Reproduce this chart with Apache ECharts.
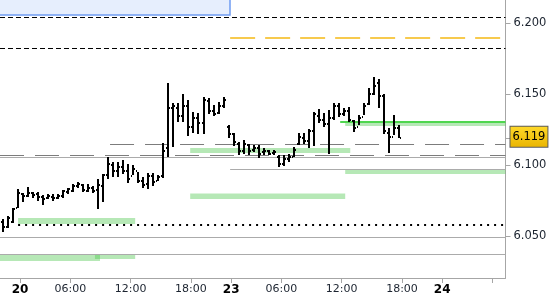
<!DOCTYPE html>
<html>
<head>
<meta charset="utf-8">
<script src="https://cdn.jsdelivr.net/npm/echarts@6/dist/echarts.min.js"></script>
<style>
html,body{margin:0;padding:0;background:#fff;}
#chart{width:550px;height:300px;}
</style>
</head>
<body>
<div id="chart"></div>
<script>
// ---- data: 30-minute OHLC bars, one per time slot (slot index = array index)
const opens  = [6.0598,6.0565,6.0600,6.0700,6.0795,6.0785,6.0800,6.0795,6.0775,6.0765,
                6.0775,6.0770,6.0780,6.0810,6.0820,6.0850,6.0860,6.0820,6.0840,6.0825,
                6.0850,6.0930,6.1000,6.0960,6.0990,6.0960,6.0920,6.0960,6.0890,6.0870,
                6.0920,6.0890,6.0920,6.1120,6.1400,6.1400,6.1350,6.1420,6.1270,6.1330,
                6.1300,6.1450,6.1380,6.1370,6.1420,6.1270,6.1220,6.1150,6.1100,6.1140,
                6.1110,6.1120,6.1090,6.1100,6.1085,6.1060,6.1010,6.1040,6.1060,6.1150,
                6.1190,6.1170,6.1240,6.1350,6.1320,6.1290,6.1330,6.1420,6.1360,6.1380,
                6.1310,6.1270,6.1340,6.1430,6.1500,6.1580,6.1490,6.1230,6.1200,6.1260];
const highs  = [6.0619,6.0641,6.0697,6.0831,6.0803,6.0845,6.0810,6.0810,6.0789,6.0796,
                6.0796,6.0796,6.0824,6.0838,6.0867,6.0881,6.0867,6.0867,6.0852,6.0902,
                6.0937,6.1057,6.1022,6.1022,6.1036,6.1008,6.1001,6.0951,6.0916,6.0944,
                6.0944,6.0930,6.1156,6.1580,6.1439,6.1439,6.1502,6.1460,6.1375,6.1368,
                6.1481,6.1474,6.1425,6.1446,6.1481,6.1283,6.1227,6.1163,6.1177,6.1149,
                6.1142,6.1142,6.1121,6.1107,6.1107,6.1071,6.1071,6.1078,6.1128,6.1227,
                6.1227,6.1255,6.1375,6.1396,6.1368,6.1389,6.1439,6.1439,6.1403,6.1410,
                6.1319,6.1354,6.1439,6.1545,6.1622,6.1608,6.1502,6.1262,6.1354,6.1283];
const lows   = [6.0528,6.0556,6.0591,6.0697,6.0739,6.0775,6.0768,6.0747,6.0718,6.0761,
                6.0747,6.0761,6.0768,6.0796,6.0810,6.0838,6.0810,6.0810,6.0803,6.0690,
                6.0739,6.0902,6.0916,6.0916,6.0937,6.0874,6.0930,6.0874,6.0838,6.0831,
                6.0852,6.0888,6.0909,6.1057,6.1128,6.1304,6.1304,6.1206,6.1227,6.1220,
                6.1220,6.1361,6.1347,6.1361,6.1403,6.1191,6.1135,6.1071,6.1078,6.1071,
                6.1093,6.1050,6.1071,6.1071,6.1071,6.0987,6.0994,6.1022,6.1057,6.1142,
                6.1149,6.1121,6.1135,6.1297,6.1269,6.1078,6.1319,6.1340,6.1347,6.1304,
                6.1234,6.1283,6.1354,6.1425,6.1495,6.1403,6.1220,6.1085,6.1213,6.1191];
const closes = [6.0560,6.0630,6.0690,6.0800,6.0780,6.0800,6.0790,6.0775,6.0760,6.0780,
                6.0770,6.0785,6.0815,6.0830,6.0850,6.0865,6.0825,6.0840,6.0820,6.0860,
                6.0930,6.1010,6.0960,6.0990,6.0960,6.0900,6.0975,6.0890,6.0860,6.0920,
                6.0880,6.0915,6.1100,6.1400,6.1420,6.1350,6.1420,6.1270,6.1330,6.1300,
                6.1460,6.1380,6.1360,6.1420,6.1460,6.1220,6.1160,6.1100,6.1150,6.1100,
                6.1120,6.1080,6.1100,6.1080,6.1095,6.1010,6.1040,6.1060,6.1110,6.1200,
                6.1170,6.1240,6.1360,6.1320,6.1290,6.1330,6.1420,6.1360,6.1380,6.1320,
                6.1260,6.1330,6.1420,6.1500,6.1560,6.1490,6.1240,6.1200,6.1260,6.1190];
const lastPrice = 6.119;

// ---- time axis (slot units) and tick labels
const slotCount = 100.6;
const tickSlots  = [4, 14, 26, 38, 46, 56, 68, 80, 88, 98];
const tickLabels = ['20', '06:00', '12:00', '18:00', '23', '06:00', '12:00', '18:00', '24', ''];
const dayLabels  = ['20', '23', '24'];

// ---- price axis
const priceMin = 6.0203, priceMax = 6.2166;
const priceTicks = [6.05, 6.10, 6.15, 6.20];

// ---- horizontal levels
const levelPrice = [6.2046, 6.1827, 6.1898, 6.1304, 6.1149, 6.1071, 6.1057, 6.0976, 6.0577, 6.0493, 6.0372];
const levelFrom  = [0, 0, 45.8, 67.7, 21.9, 0, 0, 45.8, 3.6, 0, 0];
const levelTo    = [slotCount, slotCount, 99.6, slotCount, slotCount, slotCount, slotCount, slotCount, slotCount, slotCount, slotCount];
const levelKind  = ['blackDash','blackDash','orangeDash','green','greyDash','greyDash','greySolid','greySolid','dotted','greySolid','greySolid'];

// ---- green zones
const bandLow  = [6.1277, 6.1085, 6.0937, 6.0761, 6.0584, 6.0323, 6.0337];
const bandHigh = [6.1307, 6.1121, 6.0973, 6.0800, 6.0626, 6.0365, 6.0372];
const bandFrom = [68.7, 37.85, 68.7, 37.85, 3.6, 0, 18.9];
const bandTo   = [slotCount, 69.7, slotCount, 68.7, 26.9, 19.9, 26.9];

// ---- styles
const kindStyle = {
  blackDash:  {stroke:'#000000', lineWidth:1, lineDash:[5,3]},
  orangeDash: {stroke:'#f5b914', lineWidth:1.5, lineDash:[25,10]},
  green:      {stroke:'#4fd64f', lineWidth:2},
  greyDash:   {stroke:'#7c7c7c', lineWidth:1, lineDash:[24,11]},
  greySolid:  {stroke:'#ababab', lineWidth:1},
  dotted:     {stroke:'#000000', lineWidth:2, lineDash:[2,5]}
};

const barData = opens.map((o, k) => [k + 0.5, o, highs[k], lows[k], closes[k]]);
const levelData = levelPrice.map((p, i) => [levelFrom[i], levelTo[i], p, i]);
const bandData = bandLow.map((l, i) => [bandFrom[i], bandTo[i], l, bandHigh[i]]);

const chart = echarts.init(document.getElementById('chart'), null, {renderer:'canvas'});

const labelFont = 'DejaVu Sans';

chart.setOption({
  animation: false,
  backgroundColor: '#ffffff',
  grid: {left: 0, right: 44.5, top: 0, bottom: 22},
  xAxis: {
    type: 'value', min: 0, max: slotCount,
    splitLine: {show: false},
    axisLine: {show: true, onZero: false, lineStyle: {color: '#a6a6a6', width: 1}},
    axisTick: {show: true, length: 5, lineStyle: {color: '#a6a6a6'}, customValues: tickSlots},
    axisLabel: {
      customValues: tickSlots,
      margin: 6,
      fontFamily: labelFont, fontSize: 11, color: '#1c2430',
      formatter: function (v) {
        const i = tickSlots.findIndex(t => Math.abs(t - v) < 1e-6);
        if (i < 0) return '';
        const s = tickLabels[i];
        return dayLabels.indexOf(s) >= 0 ? '{b|' + s + '}' : s;
      },
      rich: {b: {fontFamily: labelFont, fontSize: 12, fontWeight: 'bold', color: '#000'}}
    }
  },
  yAxis: {
    type: 'value', position: 'right', min: priceMin, max: priceMax, scale: true,
    splitLine: {show: false},
    axisLine: {show: true, onZero: false, lineStyle: {color: '#a6a6a6', width: 1}},
    axisTick: {show: true, length: 5, lineStyle: {color: '#a6a6a6'}, customValues: priceTicks.concat([lastPrice])},
    axisLabel: {
      customValues: priceTicks,
      margin: 8,
      fontFamily: labelFont, fontSize: 11.5, color: '#1c2430',
      formatter: v => v.toFixed(3)
    }
  },
  graphic: [{
    type: 'rect', z: 100,
    shape: {x: -1, y: -1, width: 231, height: 16},
    style: {fill: '#e6eefd', stroke: '#6f9cf2', lineWidth: 1.5}
  }],
  series: [
    {
      type: 'custom', name: 'zones', z: 1, clip: true,
      data: bandData,
      renderItem: function (params, api) {
        const p1 = api.coord([api.value(0), api.value(3)]);
        const p2 = api.coord([api.value(1), api.value(2)]);
        return {type: 'rect', shape: {x: p1[0], y: p1[1], width: p2[0] - p1[0], height: p2[1] - p1[1]},
                style: {fill: 'rgba(80,200,80,0.42)'}};
      }
    },
    {
      type: 'custom', name: 'levels', z: 2, clip: true,
      data: levelData,
      renderItem: function (params, api) {
        const p1 = api.coord([api.value(0), api.value(2)]);
        const p2 = api.coord([api.value(1), api.value(2)]);
        const st = kindStyle[levelKind[api.value(3)]];
        const y = st.lineWidth === 1 ? Math.round(p1[1]) + 0.5 : Math.round(p1[1]);
        return {type: 'line', shape: {x1: p1[0], y1: y, x2: p2[0], y2: y},
                style: Object.assign({fill: null}, st)};
      }
    },
    {
      type: 'custom', name: 'bars', z: 5, clip: true,
      data: barData,
      renderItem: function (params, api) {
        const x = api.value(0);
        const top = api.coord([x, api.value(2)]);
        const bot = api.coord([x, api.value(3)]);
        const po = api.coord([x, api.value(1)]);
        const pc = api.coord([x, api.value(4)]);
        const cx = Math.round(top[0]);
        const yt = Math.round(top[1]), yb = Math.round(bot[1]);
        return {type: 'group', children: [
          {type: 'rect', shape: {x: cx - 1, y: yt, width: 2, height: Math.max(2, yb - yt)}, style: {fill: '#000'}},
          {type: 'rect', shape: {x: cx - 2, y: Math.round(po[1]) - 1, width: 1, height: 2}, style: {fill: '#000'}},
          {type: 'rect', shape: {x: cx + 1, y: Math.round(pc[1]) - 1, width: 1, height: 2}, style: {fill: '#000'}}
        ]};
      }
    },
    {
      type: 'line', name: 'last', z: 6, data: [],
      markLine: {
        silent: true, symbol: ['none', 'none'],
        lineStyle: {color: 'rgba(0,0,0,0)', width: 1, type: 'solid'},
        label: {
          show: true, position: 'end', distance: 5,
          formatter: () => lastPrice.toFixed(3),
          fontFamily: labelFont, fontSize: 11.5, color: '#000',
          backgroundColor: new echarts.graphic.LinearGradient(0, 0, 0, 1, [
            {offset: 0, color: '#ffd92a'}, {offset: 1, color: '#e9b400'}
          ]),
          borderColor: '#5a5a5a', borderWidth: 1,
          padding: [4, 2, 4, 2]
        },
        data: [{yAxis: lastPrice}]
      }
    }
  ]
});
</script>
</body>
</html>
